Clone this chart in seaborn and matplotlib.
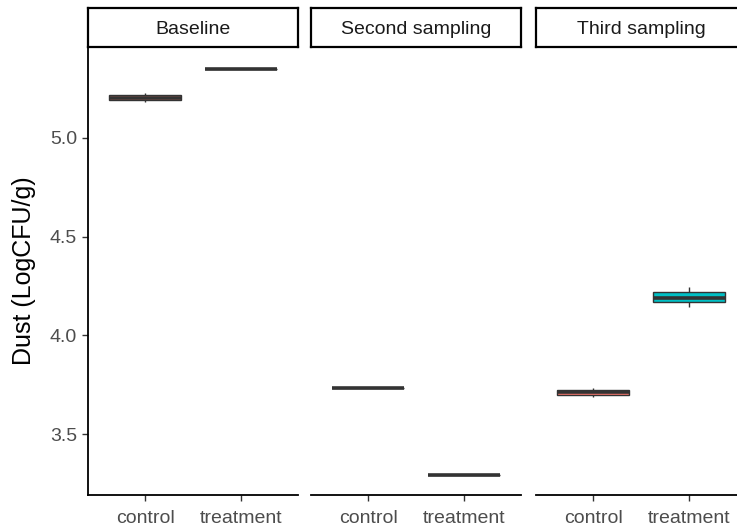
import matplotlib
matplotlib.use("Agg")
import matplotlib.pyplot as plt
import seaborn as sns
import pandas as pd

sns.set_style("white")
plt.rcParams['font.family'] = ['Liberation Sans', 'DejaVu Sans']

facets = ["Baseline", "Second sampling", "Third sampling"]
groups = ["control", "treatment"]
# replicate values per facet/group
baseline_control = [5.182, 5.203, 5.224]
baseline_treatment = [5.345, 5.346, 5.347]
second_control = [3.735, 3.736, 3.737]
second_treatment = [3.295, 3.296, 3.297]
third_control = [3.690, 3.712, 3.736]
third_treatment = [4.142, 4.192, 4.243]
yticks = [3.5, 4.0, 4.5, 5.0]
palette = {"control": "#F8766D", "treatment": "#00BFC4"}

data = {
    ("Baseline", "control"): baseline_control,
    ("Baseline", "treatment"): baseline_treatment,
    ("Second sampling", "control"): second_control,
    ("Second sampling", "treatment"): second_treatment,
    ("Third sampling", "control"): third_control,
    ("Third sampling", "treatment"): third_treatment,
}
rows = []
for (f, g), vals in data.items():
    for v in vals:
        rows.append({"facet": f, "group": g, "value": v})
df = pd.DataFrame(rows)

W, H = 737, 526
fig = plt.figure(figsize=(W / 100, H / 100), dpi=100)
lefts = [88, 311, 536]
pw = 210
ptop, pbot = 47, 495
stop = 8

for i, (f, left) in enumerate(zip(facets, lefts)):
    ax = fig.add_axes([left / W, 1 - pbot / H, pw / W, (pbot - ptop) / H])
    sub = df[df.facet == f]
    sns.boxplot(data=sub, x="group", y="value", hue="group", order=groups,
                hue_order=groups, palette=palette, legend=False, ax=ax,
                width=0.75, linewidth=1.0, linecolor="#333333", saturation=1,
                showcaps=False, showfliers=False,
                medianprops=dict(linewidth=2.6, color="#333333"))
    ax.set_xlim(-0.6, 1.6)
    ax.set_ylim(3.1936, 5.4585)
    ax.set_xlabel("")
    ax.set_facecolor("white")
    for s in ["top", "right"]:
        ax.spines[s].set_visible(False)
    ax.spines["bottom"].set_color("black")
    ax.spines["bottom"].set_linewidth(1.3)
    ax.tick_params(axis="x", length=4, width=1, color="#333333",
                   labelsize=14, labelcolor="#4D4D4D", pad=7, bottom=True)
    if i == 0:
        ax.spines["left"].set_color("black")
        ax.spines["left"].set_linewidth(1.3)
        ax.set_yticks(yticks)
        ax.set_yticklabels([f"{t:.1f}" for t in yticks])
        ax.tick_params(axis="y", length=4, width=1, color="#333333",
                       labelsize=14, labelcolor="#4D4D4D", pad=4, left=True)
        ax.set_ylabel("Dust (LogCFU/g)", fontsize=18, color="black", labelpad=10)
    else:
        ax.spines["left"].set_visible(False)
        ax.set_yticks([])
        ax.set_ylabel("")

    sax = fig.add_axes([left / W, 1 - ptop / H, pw / W, (ptop - stop) / H])
    sax.set_xticks([])
    sax.set_yticks([])
    sax.set_facecolor("white")
    for s in sax.spines.values():
        s.set_color("black")
        s.set_linewidth(1.6)
    sax.text(0.5, 0.45, f, ha="center", va="center", fontsize=14,
             color="#1A1A1A", transform=sax.transAxes)

fig.savefig("out.png", dpi=100)
